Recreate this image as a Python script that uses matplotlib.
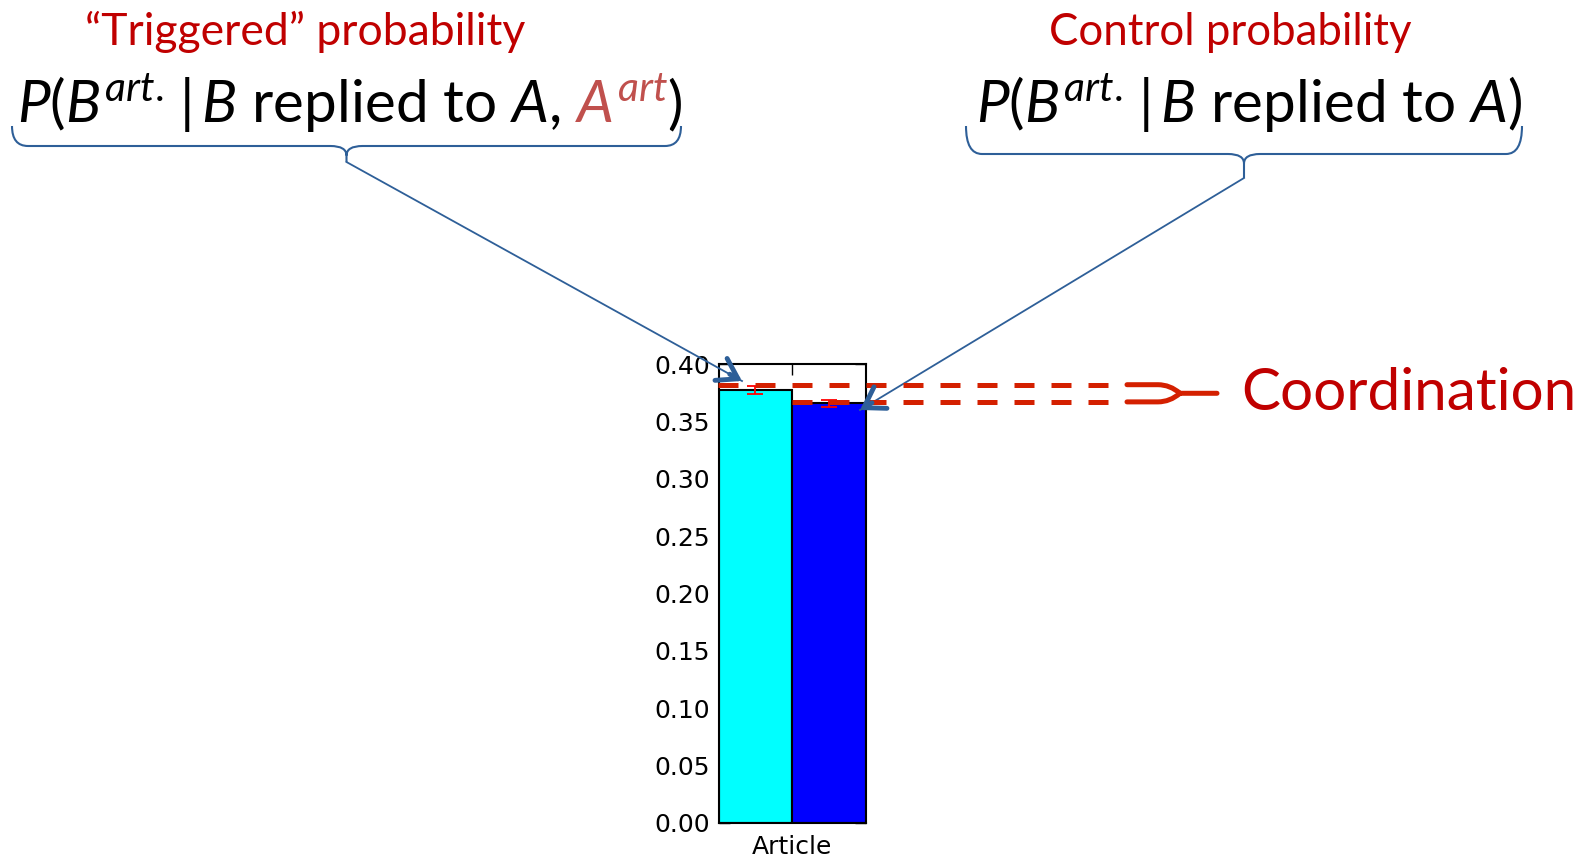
import numpy as np
import matplotlib
matplotlib.use('Agg')
import matplotlib.pyplot as plt
from matplotlib.path import Path
from matplotlib.patches import PathPatch

W, H = 1583, 858

categories = ['Article']
series_labels = ['Triggered', 'Control']
values = [0.378, 0.366]
errors = [0.0035, 0.003]
bar_colors = ['#00ffff', '#0000ff']
coord_levels = [0.3822, 0.3672]
yticks = [0.00, 0.05, 0.10, 0.15, 0.20, 0.25, 0.30, 0.35, 0.40]

plt.rcParams['mathtext.fontset'] = 'custom'
plt.rcParams['mathtext.rm'] = 'Lato'
plt.rcParams['mathtext.it'] = 'Lato:italic'
plt.rcParams['mathtext.bf'] = 'Lato:bold'

RED = '#c00000'
BLUE_LINE = '#2e5f98'
DASH_RED = '#d42000'

fig = plt.figure(figsize=(W / 100, H / 100), dpi=100)

# main bar chart
ax = fig.add_axes([718.5 / W, (H - 822.7) / H, (866 - 718.5) / W, (822.7 - 364.3) / H])
x = np.arange(len(categories))
width = 0.5
offsets = [-width / 2, width / 2]
for i in range(len(values)):
    ax.bar(x + offsets[i], values[i], width, yerr=errors[i], color=bar_colors[i],
           edgecolor='black', linewidth=1.5, label=series_labels[i],
           error_kw=dict(ecolor='red', capsize=5.5, elinewidth=1.3, capthick=1.3))
ax.set_xlim(-0.5, 0.5)
ax.set_ylim(0, 0.4)
ax.set_yticks(yticks)
ax.set_yticklabels(['%.2f' % t for t in yticks], fontsize=18)
ax.set_xticks(x)
ax.set_xticklabels(categories, fontsize=18)
ax.tick_params(direction='in', length=8, top=True, right=True, width=1)
ax.tick_params(axis='y', pad=6)
ax.tick_params(axis='x', pad=9)
ax.set_axisbelow(True)
for s in ax.spines.values():
    s.set_linewidth(1.5)

# overlay in pixel coordinates for the annotations
ov = fig.add_axes([0, 0, 1, 1], zorder=5)
ov.set_xlim(0, W)
ov.set_ylim(H, 0)
ov.axis('off')


def to_px(xv, yv):
    d = ax.transData.transform((xv, yv))
    return d[0], H - d[1]


def brace(x0, x1, ytop, ymid, ytip, r=16):
    xc = (x0 + x1) / 2
    verts = [(x0, ytop), (x0, ymid), (x0 + r, ymid),
             (xc - r, ymid), (xc, ymid), (xc, ymid + r * 0.6), (xc, ytip),
             (xc, ymid + r * 0.6), (xc, ymid), (xc + r, ymid),
             (x1 - r, ymid), (x1, ymid), (x1, ytop)]
    codes = [Path.MOVETO, Path.CURVE3, Path.CURVE3,
             Path.LINETO, Path.CURVE3, Path.CURVE3, Path.LINETO,
             Path.MOVETO, Path.CURVE3, Path.CURVE3,
             Path.LINETO, Path.CURVE3, Path.CURVE3]
    ov.add_patch(PathPatch(Path(verts, codes), fill=False, edgecolor=BLUE_LINE, lw=1.5))
    return xc, ytip


def arrow(start, tip):
    ov.plot([start[0], tip[0]], [start[1], tip[1]], color=BLUE_LINE, lw=1.3)
    d = np.array(tip) - np.array(start)
    d = d / np.hypot(*d)
    back = np.array(tip) - d * 14
    ov.annotate('', xy=tip, xytext=back,
                arrowprops=dict(arrowstyle='->,head_length=0.7,head_width=0.45',
                                lw=3.5, color=BLUE_LINE, shrinkA=0, shrinkB=0,
                                mutation_scale=20))


def rich_text(xc, y, parts, size):
    r = fig.canvas.get_renderer()
    items = []
    for s, c in parts:
        t = ov.text(0, y, s, color=c, fontsize=size, family='Lato',
                    ha='left', va='baseline')
        items.append((t, t.get_window_extent(r).width))
    xs = xc - sum(w for _, w in items) / 2
    for t, w in items:
        t.set_x(xs)
        xs += w


# titles
ov.text(305, 45, '\u201cTriggered\u201d probability', color=RED, fontsize=32,
        family='Lato', ha='center', va='baseline')
ov.text(1230, 45, 'Control probability', color=RED, fontsize=31.5,
        family='Lato', ha='center', va='baseline')

rich_text(350, 122, [(r'$P(B^{art.}\,|\,B$ replied to $A$,', 'black'),
                     (r'$\ A^{art}$', '#c0504d'), (')', 'black')], 42)
rich_text(1249, 122, [(r'$P(B^{art.}\,|\,B$ replied to $A$)', 'black')], 42)

left_tip = brace(12, 681, 126, 146, 162)
right_tip = brace(966, 1522, 126, 154, 178)
arrow(left_tip, (742, 381))
arrow(right_tip, (860, 410))

# coordination dashed lines
xl, y_up = to_px(-0.5, coord_levels[0])
xm, y_lo = to_px(0, coord_levels[1])
ov.plot([xl, 1113], [y_up, y_up], color=DASH_RED, lw=3.6, dashes=(4, 3.4))
ov.plot([xm, 1113], [y_lo, y_lo], color=DASH_RED, lw=3.6, dashes=(4, 3.4))
ym = (y_up + y_lo) / 2
verts = [(1127, y_up), (1158, y_up), (1170, y_up), (1180, ym),
         (1127, y_lo), (1158, y_lo), (1170, y_lo), (1180, ym), (1217, ym)]
codes = [Path.MOVETO, Path.LINETO, Path.CURVE3, Path.CURVE3,
         Path.MOVETO, Path.LINETO, Path.CURVE3, Path.CURVE3, Path.LINETO]
ov.add_patch(PathPatch(Path(verts, codes), fill=False, edgecolor=DASH_RED, lw=3.6,
                       capstyle='round', joinstyle='round'))
ov.text(1241, ym, 'Coordination', color=RED, fontsize=42, family='Lato',
        ha='left', va='center')

fig.savefig('out.png', dpi=100)
